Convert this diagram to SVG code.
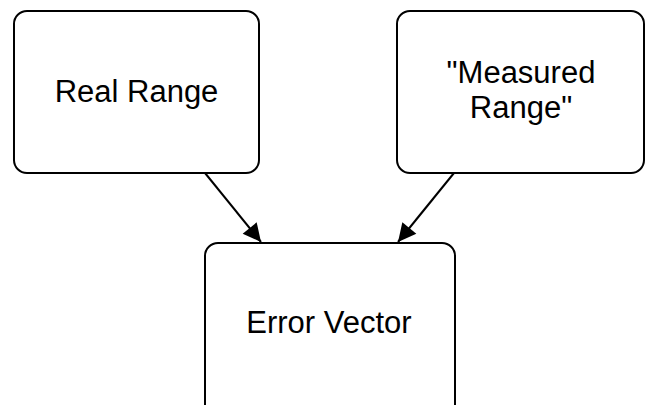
<svg xmlns="http://www.w3.org/2000/svg" width="646" height="405" viewBox="0 0 646 405">
<style>
.box{fill:#fff;stroke:#000;stroke-width:2}
.lbl{font-family:"Liberation Sans",Arial,sans-serif;font-size:31px;fill:#000;text-anchor:middle}
.edge{stroke:#000;stroke-width:2;fill:none}
</style>
<defs>
<marker id="ah" viewBox="0 0 20 20" refX="20" refY="10" markerWidth="20" markerHeight="20" markerUnits="userSpaceOnUse" orient="auto">
<path d="M2,1 L20,10 L2,19 z" fill="#000"/>
</marker>
</defs>
<g id="connectors">
<line class="edge" x1="205" y1="173" x2="261" y2="242" marker-end="url(#ah)"/>
<line class="edge" x1="454" y1="173" x2="398" y2="242" marker-end="url(#ah)"/>
</g>
<g id="real-range">
<rect class="box" x="14" y="11" width="245" height="162" rx="13"/>
<text class="lbl" x="136.5" y="102">Real Range</text>
</g>
<g id="measured-range">
<rect class="box" x="397" y="11" width="247" height="162" rx="13"/>
<text class="lbl" x="521" y="83">"Measured</text>
<text class="lbl" x="521" y="118">Range"</text>
</g>
<g id="error-vector">
<rect class="box" x="205" y="243" width="250" height="175" rx="13"/>
<text class="lbl" x="329" y="333">Error Vector</text>
</g>
</svg>
